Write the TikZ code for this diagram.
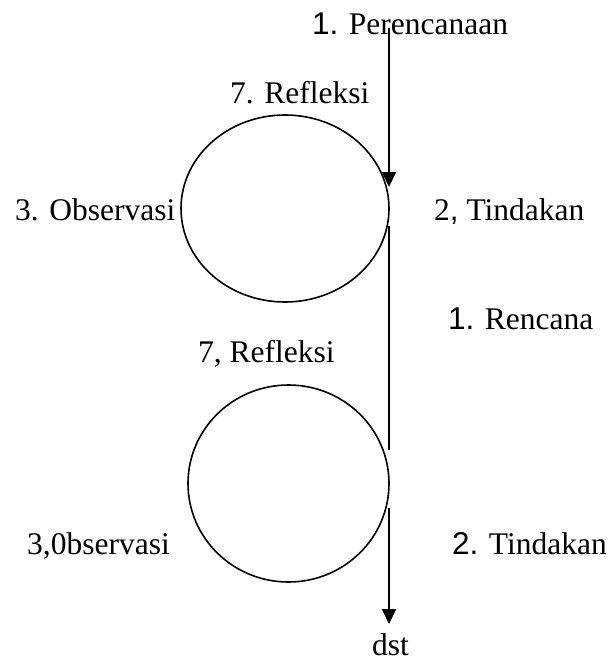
\documentclass[tikz,border=0pt]{standalone}
\usepackage{fontspec}
\setmainfont{Liberation Serif}
\newfontfamily\arialfont{Liberation Sans}
\usetikzlibrary{shapes.geometric,arrows.meta}

\tikzset{
  cycle/.style={draw, ellipse, line width=1.6pt, inner sep=0pt},
  label text/.style={anchor=base west, inner sep=0pt, font=\fontsize{31.5}{36}\selectfont},
  flow/.style={line width=1.9pt},
  flow arrow/.style={line width=1.9pt, -{Triangle[width=14pt,length=15pt]}}
}

\begin{document}
\begin{tikzpicture}[x=1pt, y=-1pt]
  \useasboundingbox (0,0) rectangle (614,663);

  % two cycles of the action research spiral
  \node[cycle, minimum width=208pt, minimum height=187pt] (cycA) at (285,208.5) {};
  \node[cycle, minimum width=201pt, minimum height=197pt] (cycB) at (288.5,483.5) {};

  % labels of the first cycle
  \node[label text] (plan)   at (312,35)  {{\arialfont 1.} Perencanaan};
  \node[label text] (refA)   at (230,104) {7. Refleksi};
  \node[label text] (obsA)   at (15,220)  {3. Observasi};
  \node[label text] (actA)   at (434,220) {2{\arialfont ,} Tindakan};

  % labels of the second cycle
  \node[label text] (planB)  at (448,329) {{\arialfont 1.} Rencana};
  \node[label text] (refB)   at (198,362) {7, Refleksi};
  \node[label text] (obsB)   at (27,554)  {3,0bservasi};
  \node[label text] (actB)   at (452,554) {{\arialfont 2.} Tindakan};
  \node[label text] (dst)    at (372,655) {dst};

  % the vertical flow line on the right side
  \coordinate (p0) at (389,28);
  \coordinate (p1) at (389,187);
  \coordinate (p2) at (389,226);
  \coordinate (p3) at (389,450);
  \coordinate (p4) at (389,508);
  \coordinate (p5) at (389,624);

  \draw[flow arrow] (p0) -- (p1);
  \draw[flow] (p2) -- (p3);
  \draw[flow arrow] (p4) -- (p5);
\end{tikzpicture}
\end{document}
